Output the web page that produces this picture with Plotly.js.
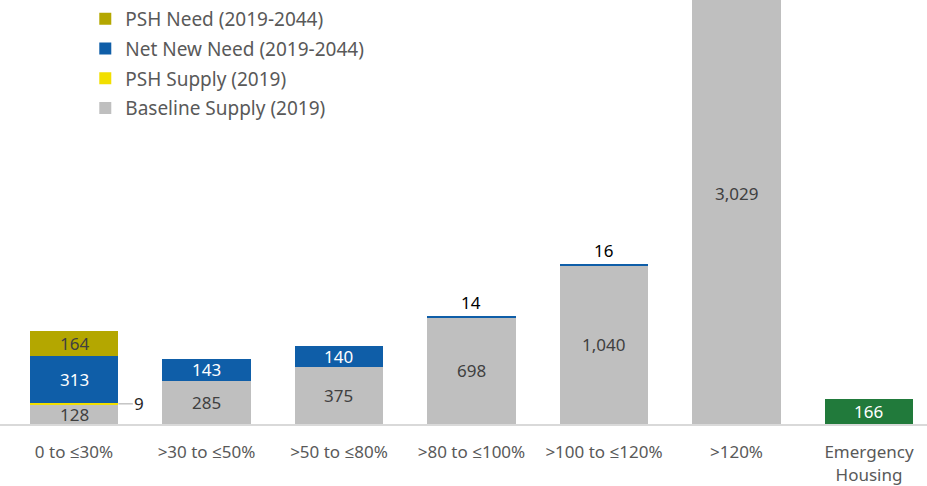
<!DOCTYPE html>
<html>
<head>
<meta charset="utf-8">
<script src="https://cdn.plot.ly/plotly-3.0.1.min.js"></script>
<style>html,body{margin:0;padding:0;background:#fff;}#chart{width:927px;height:486px;}</style>
</head>
<body>
<div id="chart"></div>
<script>
var categories = ["0 to ≤30%", ">30 to ≤50%", ">50 to ≤80%", ">80 to ≤100%", ">100 to ≤120%", ">120%", "Emergency<br>Housing"];
var baselineSupply = [128, 285, 375, 698, 1040, 3029, 0];
var pshSupply = [9, 0, 0, 0, 0, 0, 0];
var netNewNeed = [313, 143, 140, 14, 16, 0, 0];
var pshNeed = [164, 0, 0, 0, 0, 0, 0];
var emergencyHousing = [0, 0, 0, 0, 0, 0, 166];

var FONT = "Noto Sans, Open Sans, sans-serif";
var series = [
  {name: "Baseline Supply (2019)", values: baselineSupply, color: "#bfbfbf", txt: "#404040", legend: true, rank: 4},
  {name: "PSH Supply (2019)", values: pshSupply, color: "#f2df00", txt: "#404040", legend: true, leader: true, rank: 3},
  {name: "Net New Need (2019-2044)", values: netNewNeed, color: "#0f5ea8", txt: "#ffffff", legend: true, rank: 2},
  {name: "PSH Need (2019-2044)", values: pshNeed, color: "#b4a700", txt: "#404040", legend: true, rank: 1},
  {name: "Emergency Housing", values: emergencyHousing, color: "#217a3b", txt: "#ffffff", legend: false, rank: 5}
];

function fmt(v){ return v.toLocaleString("en-US"); }

var traces = [];
var annotations = [];
var cum = categories.map(function(){ return 0; });
var xs = categories.map(function(_, i){ return i; });
series.forEach(function(s, si){
  traces.push({
    type: "bar", x: xs, y: s.values, name: s.name,
    marker: {color: s.color}, width: 0.67,
    showlegend: s.legend, legendgroup: "g" + si, legendrank: s.rank,
    hoverinfo: "skip"
  });
  s.values.forEach(function(v, i){
    if (v > 0) {
      if (v >= 60) {
        annotations.push({x: i, y: cum[i] + v / 2, xref: "x", yref: "y", text: fmt(v), showarrow: false,
          font: {family: FONT, size: 17, color: s.txt}});
      } else if (s.leader) {
        annotations.push({x: i + 0.335, y: cum[i] + v / 2, xref: "x", yref: "y", text: fmt(v), showarrow: true,
          arrowhead: 0, arrowwidth: 1, arrowcolor: "#a6a6a6", ax: 21, ay: 0, standoff: 0,
          font: {family: FONT, size: 17, color: "#262626"}});
      } else {
        annotations.push({x: i, y: cum[i] + v, xref: "x", yref: "y", text: fmt(v), showarrow: false,
          yanchor: "bottom", yshift: 0,
          font: {family: FONT, size: 17, color: "#000000"}});
      }
    }
    cum[i] += v;
  });
});

var layout = {
  width: 927, height: 486,
  margin: {l: 0, r: 0, t: 0, b: 62},
  paper_bgcolor: "#ffffff", plot_bgcolor: "#ffffff",
  barmode: "stack",
  showlegend: true,
  legend: {x: 0.092, xanchor: "left", y: 1.0, yanchor: "top", traceorder: "grouped", tracegroupgap: 2,
    font: {family: FONT, size: 19, color: "#595959"}, bgcolor: "rgba(0,0,0,0)"},
  xaxis: {
    type: "linear", range: [-0.5585, 6.438],
    tickmode: "array", tickvals: xs, ticktext: categories,
    showgrid: false, zeroline: false, showline: true, linecolor: "#d9d9d9", linewidth: 2,
    ticks: "", ticklabelstandoff: 12,
    tickfont: {family: FONT, size: 17, color: "#595959"}
  },
  yaxis: {range: [0, 2790], visible: false, showgrid: false, zeroline: false},
  annotations: annotations
};

Plotly.newPlot("chart", traces, layout, {staticPlot: true, displayModeBar: false});
</script>
</body>
</html>
